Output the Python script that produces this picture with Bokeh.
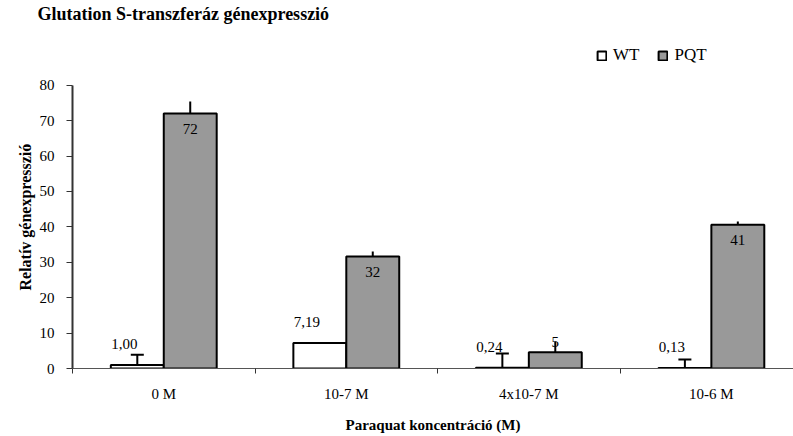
from bokeh.plotting import figure
from bokeh.models import (ColumnDataSource, Whisker, TeeHead, Legend,
                          LegendItem, FixedTicker, Range1d, Title)
from bokeh.core.properties import value
from bokeh.embed import file_html
from bokeh.resources import INLINE

# ---- data ----
categories = ["0 M", "10-7 M", "4x10-7 M", "10-6 M"]
wt_values = [1.00, 7.19, 0.24, 0.13]
wt_errors = [2.9, 0.0, 4.0, 2.4]
pqt_values = [72.0, 31.6, 4.6, 40.6]
pqt_errors = [3.4, 1.45, 3.0, 0.9]
y_ticks = [0, 10, 20, 30, 40, 50, 60, 70, 80]
series_names = ["WT", "PQT"]

FONT = "Liberation Serif"
BAR_W = 0.29
OFF = 0.145

centers = [i + 0.5 for i in range(len(categories))]
wt_x = [c - OFF for c in centers]
pqt_x = [c + OFF for c in centers]

wt_src = ColumnDataSource(dict(x=wt_x, top=wt_values,
                               label=[f"{v:.2f}".replace(".", ",") for v in wt_values]))
pqt_src = ColumnDataSource(dict(x=pqt_x, top=pqt_values,
                                label=[str(int(round(v))) for v in pqt_values],
                                yoff=[15 if v > 10 else -10 for v in pqt_values]))

wt_err_src = ColumnDataSource(dict(
    x=[x for x, e in zip(wt_x, wt_errors) if e > 0],
    lower=[v for v, e in zip(wt_values, wt_errors) if e > 0],
    upper=[v + e for v, e in zip(wt_values, wt_errors) if e > 0]))
pqt_err_src = ColumnDataSource(dict(
    x=pqt_x, lower=pqt_values,
    upper=[v + e for v, e in zip(pqt_values, pqt_errors)]))

# y range extends above 80 so the legend sits inside the frame
p = figure(width=793, height=436, output_backend="svg", toolbar_location=None,
           x_range=Range1d(0, 3.95), y_range=Range1d(0, 96.0),
           min_border_left=72, min_border_top=0, min_border_bottom=68,
           min_border_right=0,
           title="Glutation S-transzferáz génexpresszió")
p.title.align = "left"
p.title.offset = -35
p.title.standoff = 6
p.title.vertical_align = "top"
p.title.text_font = FONT
p.title.text_font_size = "18px"
p.title.text_font_style = "bold"
p.title.text_color = "black"

p.outline_line_color = None
p.grid.visible = False
p.background_fill_color = "white"

wt_r = p.vbar(x="x", top="top", width=BAR_W, bottom=0, source=wt_src,
              fill_color="white", line_color="black", line_width=2)
pqt_r = p.vbar(x="x", top="top", width=BAR_W, bottom=0, source=pqt_src,
               fill_color="#999999", line_color="black", line_width=2)

p.add_layout(Whisker(base="x", lower="lower", upper="upper", source=wt_err_src,
                     dimension="height", line_color="black", line_width=2,
                     lower_head=None,
                     upper_head=TeeHead(size=13, line_color="black", line_width=2)))
p.add_layout(Whisker(base="x", lower="lower", upper="upper", source=pqt_err_src,
                     dimension="height", line_color="black", line_width=2,
                     lower_head=None, upper_head=None))

p.text(x="x", y="top", text="label", source=wt_src, text_font=value(FONT),
       text_font_size="15px", text_align="center", text_baseline="alphabetic",
       x_offset=-13, y_offset=-21, text_color="black")
p.text(x="x", y="top", text="label", source=pqt_src, text_font=value(FONT),
       text_font_size="15px", text_align="center", text_baseline="alphabetic",
       y_offset="yoff", text_color="black")

# x axis
p.xaxis.ticker = FixedTicker(ticks=centers, minor_ticks=[0, 1, 2, 3])
p.xaxis.major_label_overrides = {c: lab for c, lab in zip(centers, categories)}
p.xaxis.major_tick_out = 0
p.xaxis.major_tick_in = 0
p.xaxis.minor_tick_out = 5
p.xaxis.minor_tick_in = 0
p.xaxis.minor_tick_line_color = "#333333"
p.xaxis.axis_line_color = "#555555"
p.xaxis.major_label_standoff = 12
p.xaxis.axis_label = "Paraquat koncentráció (M)"
p.xaxis.axis_label_standoff = 12

# y axis
p.yaxis.ticker = FixedTicker(ticks=y_ticks, minor_ticks=[])
p.yaxis.bounds = (0, 80)
p.yaxis.major_tick_out = 6
p.yaxis.major_tick_in = 0
p.yaxis.axis_line_color = "#333333"
p.yaxis.axis_line_width = 2
p.yaxis.major_tick_line_color = "#333333"
p.yaxis.major_label_standoff = 12

for ax in (p.xaxis[0], p.yaxis[0]):
    ax.major_label_text_font = FONT
    ax.major_label_text_font_size = "15px"
    ax.major_label_text_color = "black"
    ax.axis_label_text_font = FONT
    ax.axis_label_text_font_size = "15px"
    ax.axis_label_text_font_style = "bold"
    ax.axis_label_text_color = "black"

# y axis title, placed in the left panel, starting 78px above frame bottom
p.add_layout(Title(text="Relatív génexpresszió", align="left", offset=78,
                   text_font=FONT, text_font_size="16px", text_font_style="bold",
                   text_color="black", standoff=6), "left")

legend = Legend(items=[LegendItem(label=series_names[0], renderers=[wt_r]),
                       LegendItem(label=series_names[1], renderers=[pqt_r])],
                orientation="horizontal", location=(524, 303),
                glyph_width=11, glyph_height=11, label_standoff=6, spacing=18,
                padding=0, margin=0, border_line_color=None,
                background_fill_alpha=0,
                label_text_font=FONT, label_text_font_size="17px",
                label_text_color="black")
p.add_layout(legend, "center")

open("out.html", "w").write(file_html(p, INLINE))
